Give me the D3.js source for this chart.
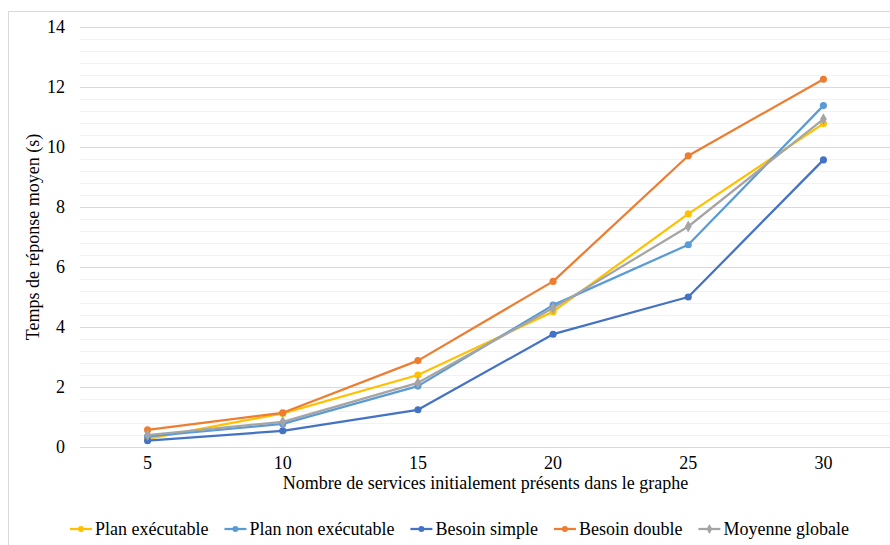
<!DOCTYPE html>
<html>
<head>
<meta charset="utf-8">
<script src="https://cdn.jsdelivr.net/npm/d3@7"></script>
<style>
  body { margin: 0; background: #fff; }
  svg text { font-family: "Liberation Serif", "Times New Roman", "DejaVu Serif", serif; fill: #000; }
</style>
</head>
<body>
<div id="chart"></div>
<script>
// Data
const categories = [5, 10, 15, 20, 25, 30];
const planExecutable = [0.27, 1.12, 2.4, 4.51, 7.77, 10.78];
const planNonExecutable = [0.35, 0.77, 2.03, 4.73, 6.74, 11.38];
const besoinSimple = [0.21, 0.54, 1.24, 3.76, 5.0, 9.57];
const besoinDouble = [0.57, 1.14, 2.88, 5.52, 9.71, 12.26];
const moyenneGlobale = [0.4, 0.84, 2.14, 4.63, 7.35, 10.93];
const yTicks = [0, 2, 4, 6, 8, 10, 12, 14];

const series = [
  { name: 'Plan exécutable', values: planExecutable, color: '#FFC000', symbol: d3.symbolCircle },
  { name: 'Plan non exécutable', values: planNonExecutable, color: '#5B9BD5', symbol: d3.symbolCircle },
  { name: 'Besoin simple', values: besoinSimple, color: '#4472C4', symbol: d3.symbolCircle },
  { name: 'Besoin double', values: besoinDouble, color: '#ED7D31', symbol: d3.symbolCircle },
  { name: 'Moyenne globale', values: moyenneGlobale, color: '#A5A5A5', symbol: d3.symbolDiamond }
];

const width = 890, height = 545;
const plot = { left: 80, right: 891, top: 27, bottom: 447 };
const fontSize = '18px';

const svg = d3.select('#chart').append('svg')
  .attr('width', width)
  .attr('height', height);

// chart border
svg.append('rect')
  .attr('x', 8.5).attr('y', 11.5)
  .attr('width', 900).attr('height', 560)
  .attr('fill', 'none')
  .attr('stroke', '#D9D9D9');

const x = d3.scaleBand()
  .domain(categories)
  .range([plot.left, plot.right]);

const y = d3.scaleLinear()
  .domain([0, 14])
  .range([plot.bottom, plot.top]);

// minor gridlines
const minor = d3.range(0, 14.001, 0.4).filter(v => Math.abs(v / 2 - Math.round(v / 2)) > 0.01);
svg.append('g')
  .selectAll('line')
  .data(minor)
  .join('line')
  .attr('x1', plot.left).attr('x2', plot.right)
  .attr('y1', d => Math.round(y(d)) + 0.5)
  .attr('y2', d => Math.round(y(d)) + 0.5)
  .attr('stroke', '#F2F2F2');

// major gridlines
svg.append('g')
  .selectAll('line')
  .data(yTicks)
  .join('line')
  .attr('x1', plot.left).attr('x2', plot.right)
  .attr('y1', d => Math.round(y(d)) + 0.5)
  .attr('y2', d => Math.round(y(d)) + 0.5)
  .attr('stroke', '#D9D9D9');

// y axis labels
const yAxis = svg.append('g')
  .attr('transform', `translate(${plot.left - 15},0)`)
  .call(d3.axisLeft(y).tickValues(yTicks).tickSize(0).tickPadding(0));
yAxis.select('.domain').remove();
yAxis.selectAll('text').attr('font-size', fontSize);

// x axis labels
const xAxis = svg.append('g')
  .attr('transform', `translate(0,${plot.bottom + 9})`)
  .call(d3.axisBottom(x).tickSize(0).tickPadding(0));
xAxis.select('.domain').remove();
xAxis.selectAll('text').attr('font-size', fontSize);

// axis titles
svg.append('text')
  .attr('x', (plot.left + plot.right) / 2)
  .attr('y', 489)
  .attr('text-anchor', 'middle')
  .attr('font-size', fontSize)
  .text('Nombre de services initialement présents dans le graphe');

svg.append('text')
  .attr('transform', `translate(39,${(plot.top + plot.bottom) / 2}) rotate(-90)`)
  .attr('text-anchor', 'middle')
  .attr('font-size', fontSize)
  .text('Temps de réponse moyen (s)');

// lines and markers
const line = d3.line()
  .x((d, i) => x(categories[i]) + x.bandwidth() / 2)
  .y(d => y(d));

series.forEach(s => {
  const g = svg.append('g');
  g.append('path')
    .attr('d', line(s.values))
    .attr('fill', 'none')
    .attr('stroke', s.color)
    .attr('stroke-width', 2.25)
    .attr('stroke-linejoin', 'round');
  g.selectAll('path.marker')
    .data(s.values)
    .join('path')
    .attr('class', 'marker')
    .attr('d', d3.symbol().type(s.symbol).size(40))
    .attr('transform', (d, i) => `translate(${x(categories[i]) + x.bandwidth() / 2},${y(d)})`)
    .attr('fill', s.color);
});

// legend
const legend = svg.append('g').attr('transform', 'translate(70,529)');
let lx = 0;
series.forEach(s => {
  const item = legend.append('g').attr('transform', `translate(${lx},0)`);
  item.append('line')
    .attr('x1', 0).attr('x2', 22)
    .attr('stroke', s.color)
    .attr('stroke-width', 2.25);
  item.append('path')
    .attr('d', d3.symbol().type(s.symbol).size(28))
    .attr('transform', 'translate(11,0)')
    .attr('fill', s.color);
  const t = item.append('text')
    .attr('x', 25)
    .attr('y', 6)
    .attr('font-size', fontSize)
    .text(s.name);
  lx += 25 + t.node().getComputedTextLength() + 16;
});
</script>
</body>
</html>
